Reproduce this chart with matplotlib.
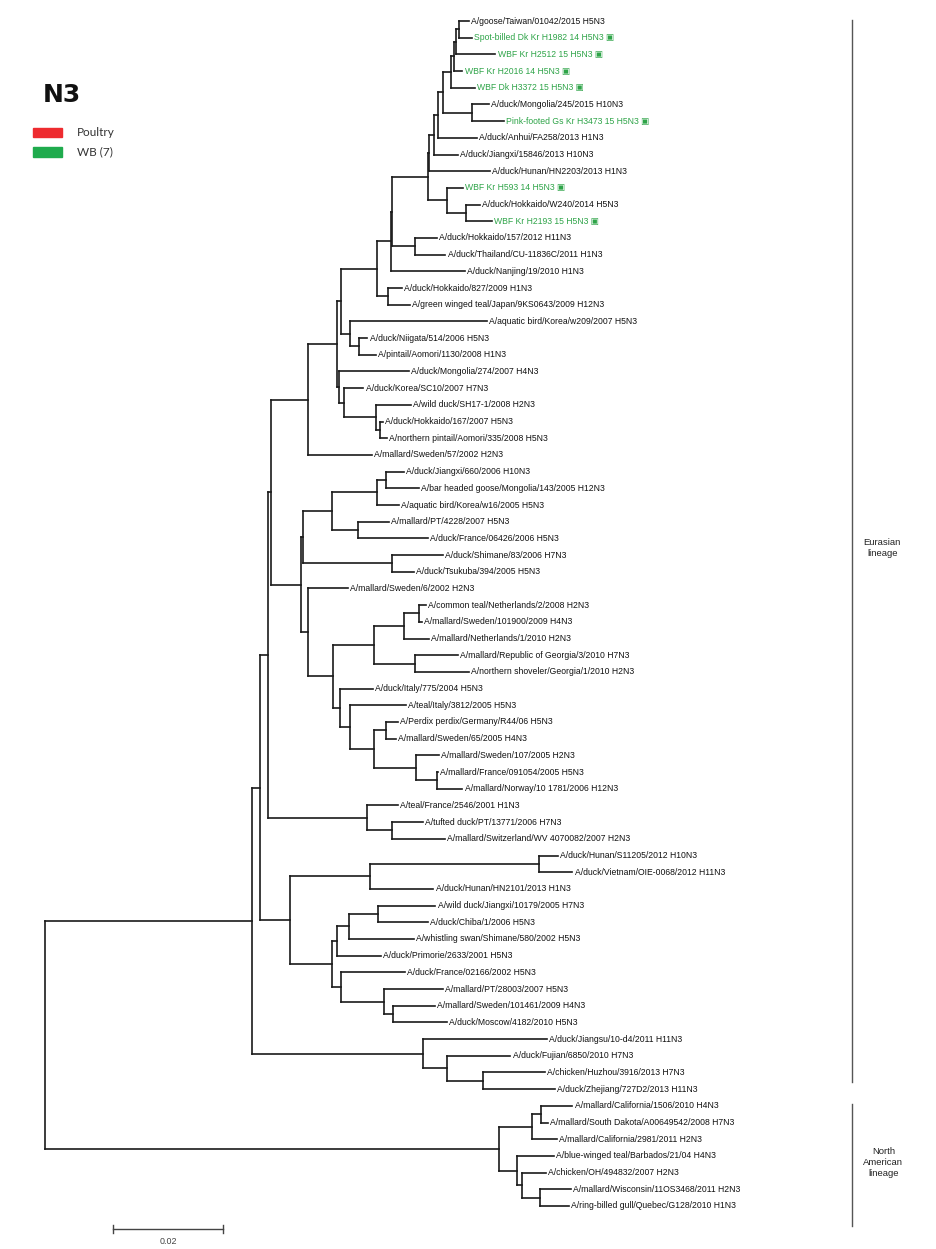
import matplotlib.pyplot as plt
from matplotlib.collections import LineCollection

# tip labels, top to bottom
TIPS = [
    "A/goose/Taiwan/01042/2015 H5N3",
    "Spot-billed Dk Kr H1982 14 H5N3",
    "WBF Kr H2512 15 H5N3",
    "WBF Kr H2016 14 H5N3",
    "WBF Dk H3372 15 H5N3",
    "A/duck/Mongolia/245/2015 H10N3",
    "Pink-footed Gs Kr H3473 15 H5N3",
    "A/duck/Anhui/FA258/2013 H1N3",
    "A/duck/Jiangxi/15846/2013 H10N3",
    "A/duck/Hunan/HN2203/2013 H1N3",
    "WBF Kr H593 14 H5N3",
    "A/duck/Hokkaido/W240/2014 H5N3",
    "WBF Kr H2193 15 H5N3",
    "A/duck/Hokkaido/157/2012 H11N3",
    "A/duck/Thailand/CU-11836C/2011 H1N3",
    "A/duck/Nanjing/19/2010 H1N3",
    "A/duck/Hokkaido/827/2009 H1N3",
    "A/green winged teal/Japan/9KS0643/2009 H12N3",
    "A/aquatic bird/Korea/w209/2007 H5N3",
    "A/duck/Niigata/514/2006 H5N3",
    "A/pintail/Aomori/1130/2008 H1N3",
    "A/duck/Mongolia/274/2007 H4N3",
    "A/duck/Korea/SC10/2007 H7N3",
    "A/wild duck/SH17-1/2008 H2N3",
    "A/duck/Hokkaido/167/2007 H5N3",
    "A/northern pintail/Aomori/335/2008 H5N3",
    "A/mallard/Sweden/57/2002 H2N3",
    "A/duck/Jiangxi/660/2006 H10N3",
    "A/bar headed goose/Mongolia/143/2005 H12N3",
    "A/aquatic bird/Korea/w16/2005 H5N3",
    "A/mallard/PT/4228/2007 H5N3",
    "A/duck/France/06426/2006 H5N3",
    "A/duck/Shimane/83/2006 H7N3",
    "A/duck/Tsukuba/394/2005 H5N3",
    "A/mallard/Sweden/6/2002 H2N3",
    "A/common teal/Netherlands/2/2008 H2N3",
    "A/mallard/Sweden/101900/2009 H4N3",
    "A/mallard/Netherlands/1/2010 H2N3",
    "A/mallard/Republic of Georgia/3/2010 H7N3",
    "A/northern shoveler/Georgia/1/2010 H2N3",
    "A/duck/Italy/775/2004 H5N3",
    "A/teal/Italy/3812/2005 H5N3",
    "A/Perdix perdix/Germany/R44/06 H5N3",
    "A/mallard/Sweden/65/2005 H4N3",
    "A/mallard/Sweden/107/2005 H2N3",
    "A/mallard/France/091054/2005 H5N3",
    "A/mallard/Norway/10 1781/2006 H12N3",
    "A/teal/France/2546/2001 H1N3",
    "A/tufted duck/PT/13771/2006 H7N3",
    "A/mallard/Switzerland/WV 4070082/2007 H2N3",
    "A/duck/Hunan/S11205/2012 H10N3",
    "A/duck/Vietnam/OIE-0068/2012 H11N3",
    "A/duck/Hunan/HN2101/2013 H1N3",
    "A/wild duck/Jiangxi/10179/2005 H7N3",
    "A/duck/Chiba/1/2006 H5N3",
    "A/whistling swan/Shimane/580/2002 H5N3",
    "A/duck/Primorie/2633/2001 H5N3",
    "A/duck/France/02166/2002 H5N3",
    "A/mallard/PT/28003/2007 H5N3",
    "A/mallard/Sweden/101461/2009 H4N3",
    "A/duck/Moscow/4182/2010 H5N3",
    "A/duck/Jiangsu/10-d4/2011 H11N3",
    "A/duck/Fujian/6850/2010 H7N3",
    "A/chicken/Huzhou/3916/2013 H7N3",
    "A/duck/Zhejiang/727D2/2013 H11N3",
    "A/mallard/California/1506/2010 H4N3",
    "A/mallard/South Dakota/A00649542/2008 H7N3",
    "A/mallard/California/2981/2011 H2N3",
    "A/blue-winged teal/Barbados/21/04 H4N3",
    "A/chicken/OH/494832/2007 H2N3",
    "A/mallard/Wisconsin/11OS3468/2011 H2N3",
    "A/ring-billed gull/Quebec/G128/2010 H1N3",
]

# wild bird isolates (1-based tip numbers)
WB_TIPS = [2, 3, 4, 5, 7, 11, 13]

# parent node and branch length of each tip
TIP_PARENT = [
    "n12", "n12", "n123", "n1234", "n15", "n67", "n67", "n18", "n19", "A",
    "n1113", "n1213", "n1213", "n1415", "n1415", "C", "n1718", "n1718", "F", "n2021",
    "n2021", "n22I", "I", "n24", "n2526", "n2526", "G", "n2829", "n2829", "L",
    "n3132", "n3132", "n3334", "n3334", "T", "n3637", "n3637", "n3638", "n3940", "n3940",
    "Q", "S", "n4344", "n4344", "n4547", "n4647", "n4647", "U", "n4950", "n4950",
    "n5152", "n5152", "V", "n5455", "n5455", "W", "X", "Y", "n5961", "n6061",
    "n6061", "JJ", "n6365", "n6465", "n6465", "n6667", "n6667", "nNA1", "nNA2", "n7072",
    "n7172", "n7172",
]
TIP_LEN = [
    0.0018, 0.0024, 0.0071, 0.0016, 0.0042, 0.0031, 0.0058, 0.0071, 0.0044, 0.0111,
    0.0029, 0.0025, 0.0047, 0.0040, 0.0055, 0.0135, 0.0025, 0.0040, 0.0249, 0.0016,
    0.0031, 0.0127, 0.0036, 0.0064, 0.0004, 0.0011, 0.0116, 0.0033, 0.0060, 0.0040,
    0.0056, 0.0127, 0.0093, 0.0040, 0.0073, 0.0013, 0.0005, 0.0045, 0.0078, 0.0098,
    0.0060, 0.0102, 0.0022, 0.0018, 0.0042, 0.0002, 0.0047, 0.0055, 0.0056, 0.0096,
    0.0033, 0.0060, 0.0116, 0.0105, 0.0091, 0.0118, 0.0080, 0.0116, 0.0107, 0.0076,
    0.0098, 0.0225, 0.0115, 0.0113, 0.0131, 0.0058, 0.0013, 0.0045, 0.0067, 0.0044,
    0.0056, 0.0053,
]

# internal nodes: name, parent, branch length
INNER = [
    ("E", "root", 0.0376), ("NA", "root", 0.0825),
    ("E1", "E", 0.0015), ("JJ", "E", 0.0311),
    ("E2", "E1", 0.0015), ("AA", "E1", 0.0055),
    ("UP", "E2", 0.0004), ("U", "E2", 0.0180),
    ("G", "UP", 0.0069), ("NT", "UP", 0.0055),
    ("N", "NT", 0.0004), ("T", "NT", 0.0013),
    ("M", "N", 0.0053), ("n3334", "N", 0.0162),
    ("L", "M", 0.0082), ("n3132", "M", 0.0047), ("n2829", "L", 0.0016),
    ("P", "T", 0.0045), ("O", "P", 0.0075), ("Q", "P", 0.0013),
    ("n3638", "O", 0.0055), ("n3940", "O", 0.0075), ("n3637", "n3638", 0.0027),
    ("S", "Q", 0.0018), ("R", "S", 0.0044),
    ("n4344", "R", 0.0022), ("n4547", "R", 0.0076), ("n4647", "n4547", 0.0038),
    ("n4950", "U", 0.0045),
    ("V", "AA", 0.0144), ("Z", "AA", 0.0075), ("n5152", "V", 0.0309),
    ("X", "Z", 0.0009), ("Y", "Z", 0.0018),
    ("W", "X", 0.0022), ("n5455", "W", 0.0053),
    ("n5961", "Y", 0.0078), ("n6061", "n5961", 0.0016),
    ("n6365", "JJ", 0.0044), ("n6465", "n6365", 0.0065),
    ("H", "G", 0.0051), ("HH", "H", 0.0009), ("n22I", "H", 0.0004),
    ("I", "n22I", 0.0009), ("n24", "I", 0.0058), ("n2526", "n24", 0.0009),
    ("D", "HH", 0.0065), ("F", "HH", 0.0016), ("n2021", "F", 0.0015),
    ("C", "D", 0.0025), ("n1718", "D", 0.0020),
    ("C1", "C", 0.0002), ("B", "C1", 0.0065), ("n1415", "C1", 0.0042),
    ("A", "B", 0.0002), ("n1113", "B", 0.0035), ("n1213", "n1113", 0.0035),
    ("n19", "A", 0.0009), ("n18", "n19", 0.0007), ("n17", "n18", 0.0009),
    ("n15", "n17", 0.0016), ("n67", "n17", 0.0053),
    ("n1234", "n15", 0.0004), ("n123", "n1234", 0.0005), ("n12", "n123", 0.0004),
    ("nNA1", "NA", 0.0060), ("nNA2", "NA", 0.0033),
    ("n6667", "nNA1", 0.0016), ("n7072", "nNA2", 0.0009), ("n7172", "n7072", 0.0033),
]

# ---- build the tree ----
parent = {}
blen = {}
for i, (p, l) in enumerate(zip(TIP_PARENT, TIP_LEN)):
    parent[i] = p
    blen[i] = l
for name, p, l in INNER:
    parent[name] = p
    blen[name] = l

children = {}
for n, p in parent.items():
    children.setdefault(p, []).append(n)

depth = {"root": 0.0}
def set_depth(n):
    for c in children.get(n, []):
        depth[c] = depth[n] + blen[c]
        set_depth(c)
set_depth("root")

ypos = {i: float(i) for i in range(len(TIPS))}
def set_y(n):
    if n in ypos:
        return ypos[n]
    ys = [set_y(c) for c in children[n]]
    ypos[n] = (min(ys) + max(ys)) / 2
    return ypos[n]
set_y("root")

# ---- figure: pixel layout mapped onto tree units ----
W, Hgt = 936, 1249
root_px, px_per_unit = 45, 5500.0
tip0_px, tip_step = 21, 16.69

fig = plt.figure(figsize=(W / 100, Hgt / 100), dpi=100)
ax = fig.add_axes([0, 0, 1, 1])
ax.set_xlim(-root_px / px_per_unit, (W - root_px) / px_per_unit)
ax.set_ylim((Hgt - tip0_px) / tip_step, -tip0_px / tip_step)
ax.axis("off")

segs = []
for n, p in parent.items():
    segs.append([(depth[p], ypos[n]), (depth[n], ypos[n])])
for n, cs in children.items():
    ys = [ypos[c] for c in cs]
    segs.append([(depth[n], min(ys)), (depth[n], max(ys))])
ax.add_collection(LineCollection(segs, colors="#1a1a1a", linewidths=1.2,
                                 capstyle="projecting"))

green = "#2ea448"
for i, lab in enumerate(TIPS):
    wb = (i + 1) in WB_TIPS
    ax.annotate(lab + (" \u25a3" if wb else ""), (depth[i], ypos[i]),
                xytext=(1.6, 0), textcoords="offset points", va="center",
                ha="left", fontsize=6.2, color=green if wb else "#111111",
                family=["Liberation Sans", "DejaVu Sans"])

# scale bar
sb_x0 = (113 - root_px) / px_per_unit
sb_y = (1229 - tip0_px) / tip_step
ax.plot([sb_x0, sb_x0 + 0.02], [sb_y, sb_y], color="#444444", lw=1.0)
for xx in (sb_x0, sb_x0 + 0.02):
    ax.plot([xx, xx], [sb_y - 0.25, sb_y + 0.25], color="#444444", lw=1.0)
ax.text(sb_x0 + 0.01, sb_y + 0.75, "0.02", ha="center", va="center",
        fontsize=6.4, color="#444444", family="Liberation Sans")

# lineage brackets
br_x = (852 - root_px) / px_per_unit
ax.plot([br_x, br_x], [-0.05, 63.6], color="#555555", lw=1.0)
ax.plot([br_x, br_x], [64.9, 72.2], color="#555555", lw=1.0)
ax.text(br_x + 0.0055, 31.6, "Eurasian\nlineage", ha="center", va="center",
        fontsize=6.8, color="#222222", family="Liberation Sans", linespacing=1.3)
ax.text(br_x + 0.0057, 68.4, "North\nAmerican\nlineage", ha="center", va="center",
        fontsize=6.8, color="#222222", family="Liberation Sans", linespacing=1.3)

# title and legend (figure pixel coords)
def fx(px):
    return px / W
def fy(py):
    return 1 - py / Hgt

fig.text(fx(43), fy(95), "N3", fontsize=18, fontweight="bold", va="center",
         ha="left", family="DejaVu Sans", color="#111111")
fig.patches.append(plt.Rectangle((fx(33), fy(137)), fx(62) - fx(33),
                                 fy(128) - fy(137), transform=fig.transFigure,
                                 color="#ee2b2f"))
fig.patches.append(plt.Rectangle((fx(33), fy(157)), fx(62) - fx(33),
                                 fy(147) - fy(157), transform=fig.transFigure,
                                 color="#1fab4d"))
fig.text(fx(77), fy(132), "Poultry", fontsize=8.5, va="center", ha="left",
         family="Lato", color="#333333")
fig.text(fx(77), fy(152), "WB (7)", fontsize=8.5, va="center", ha="left",
         family="Lato", color="#333333")

fig.savefig("out.png", dpi=100)
